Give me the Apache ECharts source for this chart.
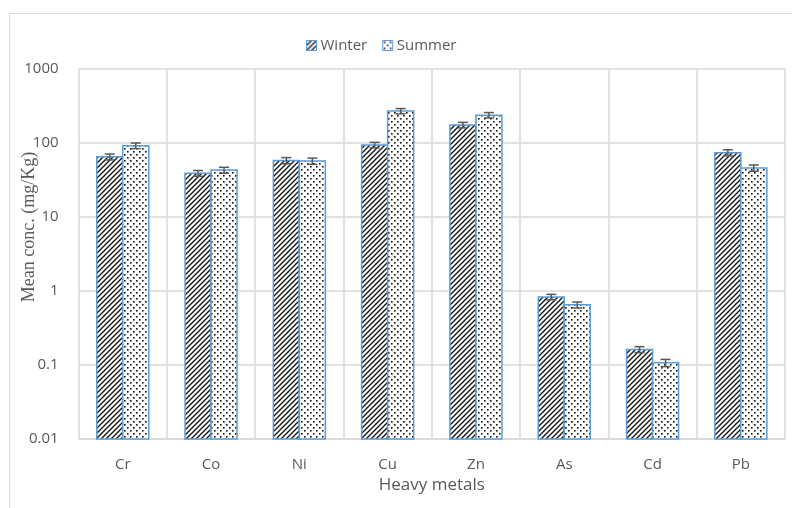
<!DOCTYPE html>
<html>
<head>
<meta charset="utf-8">
<script src="https://cdn.jsdelivr.net/npm/echarts@6/dist/echarts.min.js"></script>
<style>
  html, body { margin: 0; padding: 0; background: #fff; }
  #main { width: 792px; height: 508px; }
</style>
</head>
<body>
<div id="main"></div>
<script>
// data
const metals = ['Cr', 'Co', 'Ni', 'Cu', 'Zn', 'As', 'Cd', 'Pb'];
const winter = [65, 39, 58, 94, 175, 0.83, 0.162, 74];
const summer = [92, 43, 57, 270, 238, 0.65, 0.107, 46];
const winterErr = [6, 3.5, 5.5, 8, 15, 0.07, 0.015, 7];
const summerErr = [8, 4, 5.5, 22, 20, 0.06, 0.012, 4.5];
const yTicks = ['0.01', '0.1', '1', '10', '100', '1000'];
const yMin = 0.01;

// fill patterns
function hatch () {
  const c = document.createElement('canvas');
  c.width = 5; c.height = 5;
  const g = c.getContext('2d');
  g.fillStyle = '#fff'; g.fillRect(0, 0, 5, 5);
  g.strokeStyle = '#111'; g.lineWidth = 1.35;
  g.beginPath();
  g.moveTo(-1, 6); g.lineTo(6, -1);
  g.moveTo(-1, 1); g.lineTo(1, -1);
  g.moveTo(4, 6); g.lineTo(6, 4);
  g.stroke();
  return c;
}
function dots () {
  const c = document.createElement('canvas');
  c.width = 6; c.height = 6;
  const g = c.getContext('2d');
  g.fillStyle = '#fff'; g.fillRect(0, 0, 6, 6);
  g.fillStyle = '#111';
  g.fillRect(1, 1, 1.6, 1.6);
  g.fillRect(4, 4, 1.6, 1.6);
  return c;
}
const hatchFill = { image: hatch(), repeat: 'repeat' };
const dotFill = { image: dots(), repeat: 'repeat' };
const BORDER = '#5b9bd5';

const BAR = 26;
// bars drawn from the axis floor (0.01), plus error bars on top
function barSeries (name, vals, errs, fill, dx) {
  return {
    name: name,
    type: 'custom',
    itemStyle: { color: fill, borderColor: BORDER, borderWidth: 1.5 },
    data: vals.map((v, i) => [i, v, v - errs[i], v + errs[i]]),
    renderItem: function (params, api) {
      const base = api.coord([api.value(0), yMin]);
      const top = api.coord([api.value(0), api.value(1)]);
      const lo = api.coord([api.value(0), api.value(2)]);
      const hi = api.coord([api.value(0), api.value(3)]);
      const cx = base[0] + dx;
      const s = { stroke: '#595959', lineWidth: 1.5 };
      return {
        type: 'group',
        children: [
          {
            type: 'rect',
            shape: { x: cx - BAR / 2, y: top[1], width: BAR, height: base[1] - top[1] },
            style: { fill: fill, stroke: BORDER, lineWidth: 1.5 }
          },
          { type: 'line', shape: { x1: cx, y1: lo[1], x2: cx, y2: hi[1] }, style: s },
          { type: 'line', shape: { x1: cx - 5, y1: hi[1], x2: cx + 5, y2: hi[1] }, style: s },
          { type: 'line', shape: { x1: cx - 5, y1: lo[1], x2: cx + 5, y2: lo[1] }, style: s }
        ]
      };
    }
  };
}

const chart = echarts.init(document.getElementById('main'));
chart.setOption({
  animation: false,
  textStyle: { fontFamily: 'Open Sans', color: '#595959' },
  graphic: [
    {
      type: 'rect', z: -1, silent: true,
      shape: { x: 9.5, y: 13.5, width: 800, height: 600 },
      style: { fill: 'none', stroke: '#d9d9d9', lineWidth: 1 }
    },
    {
      type: 'text', x: 29, y: 227, rotation: Math.PI / 2,
      style: {
        text: 'Mean conc. (mg/Kg)', fill: '#595959',
        font: '18px "Liberation Serif"', align: 'center', verticalAlign: 'middle'
      }
    }
  ],
  legend: {
    top: 33,
    left: 301,
    itemWidth: 10,
    itemHeight: 10,
    itemGap: 15,
    textStyle: { fontSize: 15, color: '#595959', fontFamily: 'Open Sans', padding: [0, 0, 0, -1] },
    data: [
      { name: 'Winter', icon: 'rect', itemStyle: { color: hatchFill, borderColor: BORDER, borderWidth: 1 } },
      { name: 'Summer', icon: 'rect', itemStyle: { color: dotFill, borderColor: BORDER, borderWidth: 1 } }
    ]
  },
  grid: { left: 78.6, right: 7, top: 69, bottom: 69 },
  xAxis: {
    type: 'category',
    data: metals,
    name: 'Heavy metals',
    nameLocation: 'middle',
    nameGap: 29,
    nameTextStyle: { fontSize: 17, color: '#595959' },
    axisLine: { lineStyle: { color: '#d9d9d9', width: 1.5 } },
    axisTick: { show: false },
    axisLabel: { fontSize: 15, color: '#595959', margin: 18 },
    splitLine: { show: true, interval: 0, lineStyle: { color: '#d9d9d9', width: 1.5 } }
  },
  yAxis: {
    type: 'log',
    logBase: 10,
    min: yMin,
    max: 1000,
    axisLine: { show: false },
    axisTick: { show: false },
    axisLabel: {
      fontSize: 15, color: '#595959', margin: 20,
      formatter: function (v) {
        const i = Math.round(Math.log10(v)) + 2;
        return yTicks[i] || '';
      }
    },
    splitLine: { lineStyle: { color: '#d9d9d9', width: 1.5 } }
  },
  series: [
    barSeries('Winter', winter, winterErr, hatchFill, -BAR / 2),
    barSeries('Summer', summer, summerErr, dotFill, BAR / 2)
  ]
});
</script>
</body>
</html>
